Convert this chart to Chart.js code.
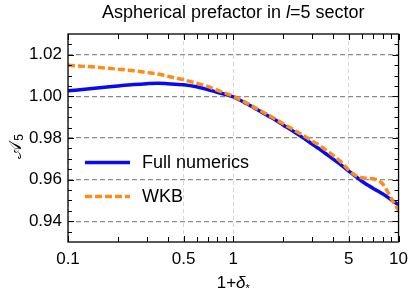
<!DOCTYPE html>
<html>
<head>
<meta charset="UTF-8" />
<title>Aspherical prefactor</title>
<script src="https://cdn.jsdelivr.net/npm/chart.js"></script>
<style>
  body { margin: 0; background: #fff; }
  #wrap { width: 415px; height: 295px; position: relative; }
</style>
</head>
<body>
<div id="wrap"><canvas id="c"></canvas></div>
<script>
  // values
  const deltaVals = [0.1, 0.15, 0.2, 0.25, 0.3, 0.35, 0.4, 0.5, 0.6, 0.7, 0.8, 0.9, 1, 1.2, 1.4, 1.7, 2, 2.5, 3, 3.5, 4, 4.5, 5, 5.5, 6, 6.5, 7, 7.5, 8, 8.5, 9, 9.5, 10];
  const fullNumerics = [1.0027, 1.0040, 1.0050, 1.0057, 1.0061, 1.0063, 1.0061, 1.0056, 1.0046, 1.0033, 1.0020, 1.0009, 0.9998,
    0.9966, 0.9936, 0.9898, 0.9863, 0.9814, 0.9771, 0.9734, 0.9700, 0.9670, 0.9641, 0.9615, 0.9592, 0.9574, 0.9558, 0.9545,
    0.9532, 0.9518, 0.9504, 0.9491, 0.9478];
  const wkb = [1.0150, 1.0140, 1.0131, 1.0123, 1.0115, 1.0108, 1.0097, 1.0080, 1.0063, 1.0048, 1.0030, 1.0015, 1.0001,
    0.9969, 0.9939, 0.9902, 0.9869, 0.9824, 0.9786, 0.9752, 0.9718, 0.9684, 0.9646, 0.9620, 0.9609, 0.9606, 0.9604, 0.9597,
    0.9580, 0.9548, 0.9512, 0.9480, 0.9452];

  const xMajor = [0.1, 0.5, 1, 5, 10];
  const xMinor = [0.2, 0.3, 0.4, 0.6, 0.7, 0.8, 0.9, 2, 3, 4, 6, 7, 8, 9];
  const yMajor = [0.94, 0.96, 0.98, 1.00, 1.02];
  const yMinor = [0.935, 0.945, 0.95, 0.955, 0.965, 0.97, 0.975, 0.985, 0.99, 0.995, 1.005, 1.01, 1.015, 1.025];

  const BLUE = '#0a0af0';
  const ORANGE = '#ff8c1a';
  const FONT = '"Liberation Sans", Arial, sans-serif';

  // frame, inward ticks, titles and legend
  const decor = {
    id: 'decor',
    afterDraw(chart) {
      const ctx = chart.ctx;
      const a = chart.chartArea;
      const xs = chart.scales.x, ys = chart.scales.y;
      ctx.save();
      ctx.strokeStyle = '#000';
      ctx.lineWidth = 1.3;
      ctx.strokeRect(a.left, a.top, a.right - a.left, a.bottom - a.top);

      ctx.lineWidth = 1;
      ctx.beginPath();
      const xt = (v, len) => {
        const px = Math.round(xs.getPixelForValue(v)) + 0.5;
        ctx.moveTo(px, a.bottom); ctx.lineTo(px, a.bottom - len);
        ctx.moveTo(px, a.top); ctx.lineTo(px, a.top + len);
      };
      const yt = (v, len) => {
        const py = Math.round(ys.getPixelForValue(v)) + 0.5;
        ctx.moveTo(a.left, py); ctx.lineTo(a.left + len, py);
        ctx.moveTo(a.right, py); ctx.lineTo(a.right - len, py);
      };
      xMajor.forEach(v => xt(v, 6));
      xMinor.forEach(v => xt(v, 5));
      yMajor.forEach(v => yt(v, 6));
      yMinor.forEach(v => yt(v, 4));
      ctx.stroke();

      ctx.fillStyle = '#000';
      ctx.textBaseline = 'alphabetic';
      // title with italic l
      const cx = (a.left + a.right) / 2;
      const parts = [['Aspherical prefactor in ', '18px ' + FONT], ['l', 'italic 18px ' + FONT], ['=5 sector', '18px ' + FONT]];
      let tw = 0;
      parts.forEach(p => { ctx.font = p[1]; tw += ctx.measureText(p[0]).width; });
      let x0 = cx - tw / 2;
      parts.forEach(p => { ctx.font = p[1]; ctx.fillText(p[0], x0, 18); x0 += ctx.measureText(p[0]).width; });

      // x axis title 1+δ*
      ctx.font = '17px ' + FONT;
      const w1 = ctx.measureText('1+').width;
      ctx.font = 'italic 17px ' + FONT;
      const w2 = ctx.measureText('δ').width;
      ctx.font = '11px ' + FONT;
      const w3 = ctx.measureText('*').width;
      let xx = cx - (w1 + w2 + w3) / 2;
      ctx.font = '17px ' + FONT; ctx.fillText('1+', xx, 288); xx += w1;
      ctx.font = 'italic 17px ' + FONT; ctx.fillText('δ', xx, 288); xx += w2;
      ctx.font = '11px ' + FONT; ctx.fillText('*', xx, 292);

      // y axis title A_5
      ctx.save();
      ctx.translate(21, 147);
      ctx.rotate(-Math.PI / 2);
      ctx.font = '18px "DejaVu Serif", "DejaVu Sans", serif';
      const wa = ctx.measureText('𝒜').width;
      ctx.font = '12px ' + FONT;
      const wb = ctx.measureText('5').width;
      ctx.font = '18px "DejaVu Serif", "DejaVu Sans", serif';
      ctx.fillText('𝒜', -(wa + wb) / 2, 0);
      ctx.font = '12px ' + FONT;
      ctx.fillText('5', -(wa + wb) / 2 + wa + 1, 2);
      ctx.restore();

      // legend
      const items = [['Full numerics', BLUE, []], ['WKB', ORANGE, [7, 3]]];
      items.forEach((it, i) => {
        const y = 162.5 + i * 34;
        ctx.strokeStyle = it[1];
        ctx.lineWidth = 3.5;
        ctx.setLineDash(it[2]);
        ctx.beginPath(); ctx.moveTo(85, y); ctx.lineTo(130, y); ctx.stroke();
        ctx.setLineDash([]);
        ctx.font = '18px ' + FONT;
        ctx.textBaseline = 'middle';
        ctx.fillText(it[0], 142, y + 1);
      });
      ctx.restore();
    }
  };

  new Chart(document.getElementById('c'), {
    type: 'line',
    data: {
      datasets: [
        {
          label: 'Full numerics',
          data: deltaVals.map((x, i) => ({ x: x, y: fullNumerics[i] })),
          borderColor: BLUE,
          borderWidth: 3.5,
          pointRadius: 0,
          cubicInterpolationMode: 'monotone',
          order: 2
        },
        {
          label: 'WKB',
          data: deltaVals.map((x, i) => ({ x: x, y: wkb[i] })),
          borderColor: ORANGE,
          borderWidth: 3.5,
          borderDash: [7, 3],
          pointRadius: 0,
          cubicInterpolationMode: 'monotone',
          order: 1
        }
      ]
    },
    options: {
      responsive: true,
      maintainAspectRatio: false,
      animation: false,
      layout: { padding: { top: 34, right: 11, bottom: 0, left: 0 } },
      plugins: { legend: { display: false }, tooltip: { enabled: false }, title: { display: false } },
      scales: {
        x: {
          type: 'logarithmic',
          min: 0.1,
          max: 10,
          afterBuildTicks: s => { s.ticks = xMajor.map(v => ({ value: v })); },
          afterFit: s => { s.height = 53; },
          ticks: {
            autoSkip: false,
            maxRotation: 0,
            padding: 7,
            color: '#000',
            font: { family: FONT, size: 17 },
            callback: v => String(v)
          },
          grid: { color: '#d6d6d6', lineWidth: 1, drawTicks: false },
          border: { display: false, dash: [4, 3] }
        },
        y: {
          min: 0.93,
          max: 1.03,
          afterBuildTicks: s => { s.ticks = yMajor.map(v => ({ value: v })); },
          afterFit: s => { s.width = 68; },
          ticks: {
            padding: 6,
            color: '#000',
            font: { family: FONT, size: 17 },
            callback: v => v.toFixed(2)
          },
          grid: { color: '#8c8c8c', lineWidth: 1.2, drawTicks: false },
          border: { display: false, dash: [5, 3] }
        }
      }
    },
    plugins: [decor]
  });
</script>
</body>
</html>
